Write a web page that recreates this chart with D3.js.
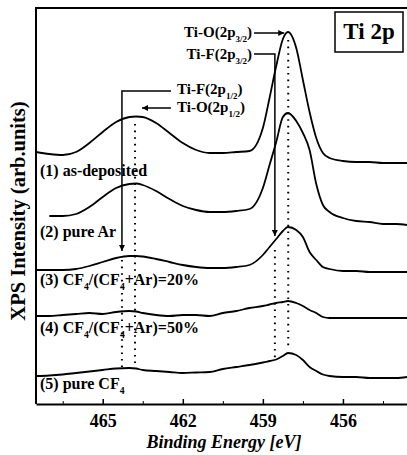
<!DOCTYPE html>
<html>
<head>
<meta charset="utf-8">
<script src="https://cdn.jsdelivr.net/npm/d3@7"></script>
<style>
  body { margin: 0; background: #fff; }
  svg { display: block; font-family: 'Liberation Serif', 'Times New Roman', serif; font-weight: bold; }
</style>
</head>
<body>
<div id="viz"></div>
<script>
// binding energy grid (eV) and intensities (arb. units)
const energy = [467.5, 467, 466.5, 466, 465.5, 465, 464.5, 464, 463.75, 463.5, 463, 462.5, 462, 461.5, 461, 460.5, 460,
  459.5, 459, 458.75, 458.5, 458.25, 458.06, 457.75, 457.5, 457.25, 457, 456.75, 456.5, 456, 455.5, 455, 454.5, 454, 453.6];
const asDeposited = [252, 250, 249, 252, 261, 272, 282, 287, 287.5, 287, 281, 271, 261, 254, 251, 251, 252,
  253, 276, 306, 338, 365, 372, 356, 324, 292, 266, 251, 246, 243, 242, 242, 241, 241, 241];
const pureAr = [null, 188, 188, 190, 197, 207, 216, 220, 220.5, 219, 213, 205, 198, 194, 192, 192, 193,
  195, 216, 239, 262, 287, 291, 283, 271, 254, 220, 199, 192, 186, 183, 182, 180, 180, 179];
const cf20 = [134, 134, 134, 135, 138, 142, 146, 148, 148, 147.5, 145, 142, 139, 137, 136, 136, 137,
  139, 149, 157, 165, 173, 177, 174, 167, 152, 144, 137, 135, 133, 133, 132, 132, 132, 132];
const cf50 = [88, 88, 89, 90, 91, 90, 92, 93, 92.5, 91, 89, 88, 89, 89, 88, 91, 93,
  96, 98, 99.5, 101, 102, 103, 101, 98, 94, 91, 87, 86, 86, 86, 86, 86, 86, 86];
const pureCF4 = [28, 28.5, 29.5, 31, 32.5, 34, 35.5, 36, 35.5, 34, 33, 32, 31, 31.5, 32, 35, 37,
  39, 41.5, 43, 44.5, 48, 51, 49, 44, 37, 33, 29.5, 28, 27, 27, 26, 26, 26, 27];

const sampleLabels = ['(1) as-deposited', '(2) pure Ar', '(3) CF_{4}/(CF_{4}+Ar)=20%', '(4) CF_{4}/(CF_{4}+Ar)=50%', '(5) pure CF_{4}'];
const peakNames = ['Ti-O(2p_{3/2})', 'Ti-F(2p_{3/2})', 'Ti-F(2p_{1/2})', 'Ti-O(2p_{1/2})'];
const peakEnergies = [458.05, 458.55, 464.28, 463.79];
const xTicks = [465, 462, 459, 456];
const xMinorTicks = [466.5, 463.5, 460.5, 457.5, 454.5];

const series = [asDeposited, pureAr, cf20, cf50, pureCF4];

const W = 407, H = 455;
const frame = {left: 36, top: 8, right: 407, bottom: 404};
const labelY = [176, 237, 285, 333, 389];
// annotation layout: text x, anchor, baseline, leader y, vertical drop end
const annot = [
  {tx: 252, anchor: 'end', ty: 37, ly: 33, drop: null, tipOffset: -4},
  {tx: 252, anchor: 'end', ty: 59, ly: 54, drop: 236, tipOffset: 0},
  {tx: 177, anchor: 'start', ty: 94, ly: 91, drop: 251, tipOffset: 0},
  {tx: 177, anchor: 'start', ty: 112, ly: 108, drop: null, tipOffset: 7}
];
const dotSpan = [[40, 348], [250, 360], [260, 367], [124, 363]];

const svg = d3.select('#viz')
  .append('svg')
  .attr('width', W)
  .attr('height', H);

const x = d3.scaleLinear().domain([467.5, 453.6]).range([frame.left, frame.right]);
const y = d3.scaleLinear().domain([0, 396]).range([frame.bottom, frame.top]);

svg.append('defs').append('marker')
  .attr('id', 'arrow')
  .attr('viewBox', '0 0 10 10')
  .attr('refX', 10).attr('refY', 5)
  .attr('markerUnits', 'userSpaceOnUse')
  .attr('markerWidth', 8).attr('markerHeight', 6)
  .attr('orient', 'auto')
  .append('path').attr('d', 'M0,0L10,5L0,10z').attr('fill', '#000');

// writes "a_{b}" as a subscript
function rich(sel, str, size) {
  const parts = str.split(/_\{(.*?)\}/);
  let shifted = false;
  parts.forEach((p, i) => {
    if (!p) return;
    const sub = i % 2 === 1;
    const t = sel.append('tspan').text(p);
    if (sub) {
      t.attr('font-size', size * 0.6).attr('dy', size * 0.3);
      shifted = true;
    } else {
      t.attr('font-size', size);
      if (shifted) { t.attr('dy', -size * 0.3); shifted = false; }
    }
  });
}

// frame
svg.append('path')
  .attr('d', `M${frame.left},${frame.bottom}V${frame.top}H${frame.right}`)
  .attr('fill', 'none').attr('stroke', '#000').attr('stroke-width', 2);

const xAxis = svg.append('g')
  .attr('transform', `translate(0,${frame.bottom})`)
  .call(d3.axisBottom(x).tickValues(xTicks).tickSize(-5).tickSizeOuter(0).tickPadding(10).tickFormat(d3.format('d')));
xAxis.select('.domain').attr('stroke-width', 2);
xAxis.selectAll('.tick line').attr('stroke-width', 1.5);
xAxis.selectAll('text')
  .attr('font-family', "'Liberation Serif', serif")
  .attr('font-weight', 'bold')
  .attr('font-size', 18)
  .attr('fill', '#000');

svg.append('g')
  .attr('transform', `translate(0,${frame.bottom})`)
  .call(d3.axisBottom(x).tickValues(xMinorTicks).tickSize(-3).tickFormat(''))
  .call(g => g.select('.domain').remove());

svg.append('text')
  .attr('x', 224).attr('y', 448)
  .attr('text-anchor', 'middle')
  .attr('font-size', 18)
  .attr('font-style', 'italic')
  .text('Binding Energy [eV]');

svg.append('text')
  .attr('transform', 'translate(25,211) rotate(-90)')
  .attr('text-anchor', 'middle')
  .attr('font-size', 20.5)
  .text('XPS Intensity (arb.units)');

// dotted peak positions
svg.selectAll('.peakline')
  .data(peakEnergies)
  .enter()
  .append('line')
  .attr('class', 'peakline')
  .attr('x1', d => x(d)).attr('x2', d => x(d))
  .attr('y1', (d, i) => dotSpan[i][0]).attr('y2', (d, i) => dotSpan[i][1])
  .attr('stroke', '#000')
  .attr('stroke-width', 2)
  .attr('stroke-dasharray', '1.6,5');

// spectra
const line = d3.line()
  .defined(d => d[1] != null)
  .x(d => x(d[0]))
  .y(d => y(d[1]))
  .curve(d3.curveMonotoneX);

svg.selectAll('.spectrum')
  .data(series)
  .enter()
  .append('path')
  .attr('class', 'spectrum')
  .attr('d', s => line(energy.map((e, i) => [e, s[i]])))
  .attr('fill', 'none')
  .attr('stroke', '#000')
  .attr('stroke-width', 1.8);

sampleLabels.forEach((lab, i) => {
  const t = svg.append('text').attr('x', 40).attr('y', labelY[i]);
  rich(t, lab, 16);
});

// peak annotations
peakNames.forEach((name, i) => {
  const a = annot[i];
  const t = svg.append('text').attr('x', a.tx).attr('y', a.ty).attr('text-anchor', a.anchor);
  rich(t, name, 15);
  const start = a.anchor === 'end' ? a.tx + 2 : a.tx - 6;
  const px = x(peakEnergies[i]);
  const d = a.drop == null
    ? `M${start},${a.ly}H${px + a.tipOffset}`
    : `M${start},${a.ly}H${px}V${a.drop}`;
  svg.append('path')
    .attr('d', d)
    .attr('fill', 'none')
    .attr('stroke', '#000')
    .attr('stroke-width', 1.5)
    .attr('marker-end', 'url(#arrow)');
});

// Ti 2p box
svg.append('rect')
  .attr('x', 335).attr('y', 12)
  .attr('width', 68).attr('height', 40)
  .attr('fill', '#fff')
  .attr('stroke', '#000')
  .attr('stroke-width', 1.5);
svg.append('text')
  .attr('x', 369).attr('y', 39)
  .attr('text-anchor', 'middle')
  .attr('font-size', 23)
  .text('Ti 2p');
</script>
</body>
</html>
